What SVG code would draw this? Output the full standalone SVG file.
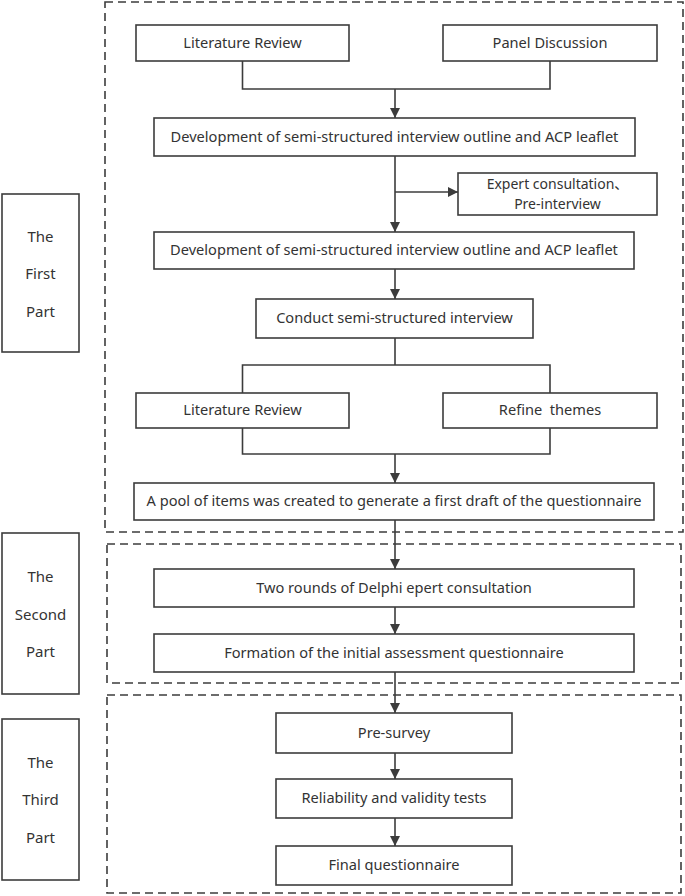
<svg xmlns="http://www.w3.org/2000/svg" width="685" height="896" viewBox="0 0 685 896">
<defs>
<style>
.bg{fill:#ffffff}
.node rect{fill:#ffffff;stroke:#3c3c3c;stroke-width:1.6}
.part rect{fill:#ffffff;stroke:#3c3c3c;stroke-width:1.6}
.dash{fill:none;stroke:#3c3c3c;stroke-width:1.6;stroke-dasharray:8,5}
text{font-family:"Noto Sans","Noto Sans CJK SC",sans-serif;font-size:14.6px;fill:#333333;text-anchor:middle;white-space:pre}
.part text{font-size:15px}
.small{font-size:14px}
.conn path{fill:none;stroke:#3c3c3c;stroke-width:1.6}
.arr{marker-end:url(#ah)}
</style>
<marker id="ah" viewBox="0 0 10 10" refX="10" refY="5" markerWidth="10" markerHeight="10" markerUnits="userSpaceOnUse" orient="auto">
<path d="M0,0 L10,5 L0,10 Z" fill="#3c3c3c"/>
</marker>
</defs>
<rect class="bg" x="0" y="0" width="685" height="896"/>

<g id="sections">
<rect class="dash" x="105" y="2" width="578" height="530"/>
<rect class="dash" x="107" y="544" width="574" height="139"/>
<rect class="dash" x="107" y="695" width="574" height="198"/>
</g>

<g id="part1" class="part">
<rect x="2" y="194" width="77" height="158"/>
<text x="40.5" y="242">The</text>
<text x="40.5" y="279">First</text>
<text x="40.5" y="317">Part</text>
</g>
<g id="part2" class="part">
<rect x="2" y="533" width="77" height="161"/>
<text x="40.5" y="582">The</text>
<text x="40.5" y="620">Second</text>
<text x="40.5" y="657">Part</text>
</g>
<g id="part3" class="part">
<rect x="2" y="719" width="77" height="161"/>
<text x="40.5" y="768">The</text>
<text x="40.5" y="805">Third</text>
<text x="40.5" y="843">Part</text>
</g>

<g id="connectors" class="conn">
<path d="M242.5,61 V89 H550 V61"/>
<path class="arr" d="M395,89 V118"/>
<path class="arr" d="M395,156 V232"/>
<path class="arr" d="M395,192 H458"/>
<path class="arr" d="M395,269 V299"/>
<path d="M395,338 V365"/>
<path d="M242.5,393 V365 H550 V393"/>
<path d="M242.5,428 V454 H550 V428"/>
<path class="arr" d="M395,454 V483"/>
<path class="arr" d="M395,520 V569"/>
<path class="arr" d="M395,607 V634"/>
<path class="arr" d="M395,672 V713"/>
<path class="arr" d="M395,753 V779"/>
<path class="arr" d="M395,818 V846"/>
</g>

<g id="lit1" class="node">
<rect x="136" y="25" width="213" height="36"/>
<text x="242.5" y="48">Literature Review</text>
</g>
<g id="panel" class="node">
<rect x="443" y="25" width="214" height="36"/>
<text x="550" y="48">Panel Discussion</text>
</g>
<g id="dev1" class="node">
<rect x="154" y="118" width="481" height="38"/>
<text x="394.5" y="142">Development of semi-structured interview outline and ACP leaflet</text>
</g>
<g id="expert" class="node">
<rect x="458" y="173" width="199" height="42"/>
<text class="small" x="557.5" y="189">Expert consultation、</text>
<text class="small" x="557.5" y="209">Pre-interview</text>
</g>
<g id="dev2" class="node">
<rect x="154" y="232" width="480" height="37"/>
<text x="394" y="255">Development of semi-structured interview outline and ACP leaflet</text>
</g>
<g id="conduct" class="node">
<rect x="256" y="299" width="277" height="39"/>
<text x="394.5" y="323">Conduct semi-structured interview</text>
</g>
<g id="lit2" class="node">
<rect x="136" y="393" width="213" height="35"/>
<text x="242.5" y="415">Literature Review</text>
</g>
<g id="refine" class="node">
<rect x="443" y="393" width="214" height="35"/>
<text x="550" y="415">Refine  themes</text>
</g>
<g id="pool" class="node">
<rect x="134" y="483" width="520" height="37"/>
<text x="394" y="506">A pool of items was created to generate a first draft of the questionnaire</text>
</g>
<g id="delphi" class="node">
<rect x="154" y="569" width="480" height="38"/>
<text x="394" y="593">Two rounds of Delphi epert consultation</text>
</g>
<g id="formation" class="node">
<rect x="154" y="634" width="480" height="38"/>
<text x="394" y="658">Formation of the initial assessment questionnaire</text>
</g>
<g id="presurvey" class="node">
<rect x="276" y="713" width="236" height="40"/>
<text x="394" y="738">Pre-survey</text>
</g>
<g id="reliability" class="node">
<rect x="276" y="779" width="236" height="39"/>
<text x="394" y="803">Reliability and validity tests</text>
</g>
<g id="final" class="node">
<rect x="276" y="846" width="236" height="39"/>
<text x="394" y="870">Final questionnaire</text>
</g>
</svg>
